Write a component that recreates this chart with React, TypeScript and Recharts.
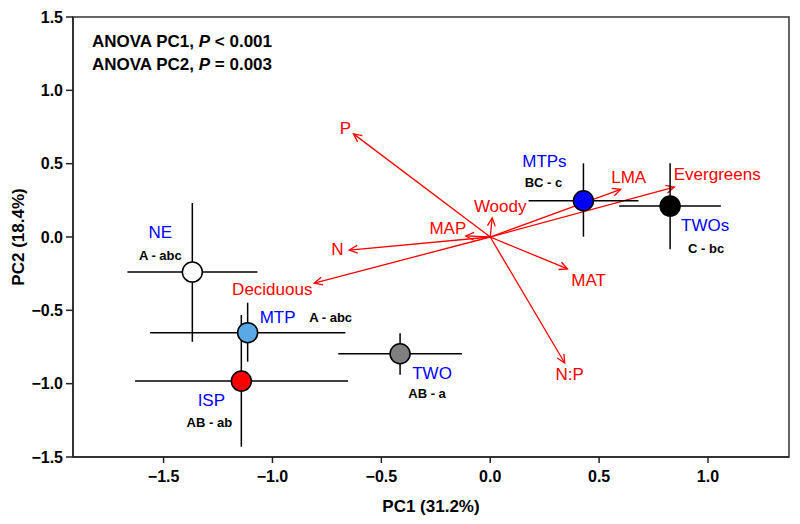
import React from 'react';
import {
  ScatterChart,
  Scatter,
  XAxis,
  YAxis,
  ErrorBar,
  ReferenceLine,
  ReferenceArea,
} from 'recharts';

// group means on PC1/PC2 with error ranges
const groups = ['NE', 'MTP', 'ISP', 'TWO', 'MTPs', 'TWOs'];
const letters = ['A - abc', 'A - abc', 'AB - ab', 'AB - a', 'BC - c', 'C - bc'];
const pc1 = [-1.368, -1.114, -1.143, -0.414, 0.428, 0.826];
const pc2 = [-0.239, -0.652, -0.982, -0.796, 0.247, 0.211];
const pc1Low = [-1.666, -1.562, -1.631, -0.698, 0.176, 0.592];
const pc1High = [-1.069, -0.665, -0.653, -0.13, 0.681, 1.059];
const pc2Low = [-0.714, -0.85, -1.43, -0.94, 0.002, -0.084];
const pc2High = [0.232, -0.448, -0.532, -0.657, 0.502, 0.502];

// loadings (arrows)
const vars = ['P', 'N', 'Deciduous', 'MAP', 'Woody', 'LMA', 'Evergreens', 'MAT', 'N:P'];
const loadPc1 = [-0.628, -0.647, -0.808, -0.112, 0.009, 0.599, 0.845, 0.355, 0.342];
const loadPc2 = [0.703, -0.089, -0.314, 0.007, 0.13, 0.325, 0.34, -0.218, -0.859];

const xTicks = [-1.5, -1.0, -0.5, 0.0, 0.5, 1.0];
const yTicks = [-1.5, -1.0, -0.5, 0.0, 0.5, 1.0, 1.5];

const X_DOMAIN: [number, number] = [-1.916, 1.372];
const Y_DOMAIN: [number, number] = [-1.5, 1.5];

const FONT = '"Liberation Sans", Arial, Helvetica, sans-serif';
const fills = ['#ffffff', '#5aa9e6', '#ff0000', '#808080', '#0000ff', '#000000'];
// text centre offsets from the circle (px): [nameDx, nameDy, letterDx, letterDy]
const groupLabelPos = [
  [-32, -40, -32, -17],
  [30, -16, 83, -15],
  [-30, 19, -32, 41],
  [32, 19, 27, 40],
  [-39, -40, -40, -18],
  [35, 19, 36, 42],
];
// arrow label centre offsets from the tip (px)
const varLabelPos = [
  [-8, -6],
  [-12, -1],
  [-42, 6],
  [-18, -8],
  [8, -12],
  [8, -12],
  [43, -13],
  [21, 11],
  [5, 11],
];

const fmt = (v: number) => (v < 0 ? '\u2212' : '') + Math.abs(v).toFixed(1);

const points = groups.map((g, i) => ({
  name: g,
  i,
  x: pc1[i],
  y: pc2[i],
  ex: [pc1[i] - pc1Low[i], pc1High[i] - pc1[i]],
  ey: [pc2[i] - pc2Low[i], pc2High[i] - pc2[i]],
}));

function GroupDot(props: any) {
  const { cx, cy, payload } = props;
  const i = payload.i;
  const [nx, ny, lx, ly] = groupLabelPos[i];
  return (
    <g>
      <circle cx={cx} cy={cy} r={10} fill={fills[i]} stroke="#000" strokeWidth={1.5} />
      <text
        x={cx + nx}
        y={cy + ny}
        dy="0.35em"
        textAnchor="middle"
        fontFamily={FONT}
        fontSize={17}
        fill="#0000ff"
      >
        {groups[i]}
      </text>
      <text
        x={cx + lx}
        y={cy + ly}
        dy="0.35em"
        textAnchor="middle"
        fontFamily={FONT}
        fontSize={13}
        fontWeight="bold"
        fill="#000"
      >
        {letters[i]}
      </text>
    </g>
  );
}

function arrowShape(i: number) {
  return (p: any) => {
    const { x1, y1, x2, y2 } = p;
    const ang = Math.atan2(y2 - y1, x2 - x1);
    const len = 9;
    const spread = 0.45;
    const ax = x2 - len * Math.cos(ang - spread);
    const ay = y2 - len * Math.sin(ang - spread);
    const bx = x2 - len * Math.cos(ang + spread);
    const by = y2 - len * Math.sin(ang + spread);
    const [dx, dy] = varLabelPos[i];
    return (
      <g>
        <line x1={x1} y1={y1} x2={x2} y2={y2} stroke="#ff0000" strokeWidth={1.3} />
        <polyline
          points={`${ax},${ay} ${x2},${y2} ${bx},${by}`}
          fill="none"
          stroke="#ff0000"
          strokeWidth={1.3}
        />
        <text
          x={x2 + dx}
          y={y2 + dy}
          dy="0.35em"
          textAnchor="middle"
          fontFamily={FONT}
          fontSize={17}
          fill="#ff0000"
        >
          {vars[i]}
        </text>
      </g>
    );
  };
}

export default function App() {
  const tickStyle = { fontFamily: FONT, fontSize: 16, fontWeight: 'bold', fill: '#000' };
  return (
    <div style={{ position: 'absolute', left: 0, top: 0, width: 800, height: 524 }}>
      <ScatterChart
        width={800}
        height={524}
        margin={{ top: 17, right: 11, bottom: 0, left: 0 }}
      >
        <XAxis
          type="number"
          dataKey="x"
          domain={X_DOMAIN}
          allowDataOverflow
          ticks={xTicks}
          tickFormatter={fmt}
          height={67}
          tickSize={6}
          tickMargin={8}
          tick={tickStyle}
          stroke="#222"
          strokeWidth={1.5}
          label={{
            value: 'PC1 (31.2%)',
            position: 'insideBottom',
            offset: 12,
            style: { fontFamily: FONT, fontSize: 17, fontWeight: 'bold', fill: '#000' },
          }}
        />
        <YAxis
          type="number"
          dataKey="y"
          domain={Y_DOMAIN}
          allowDataOverflow
          ticks={yTicks}
          tickFormatter={fmt}
          width={73}
          tickSize={7}
          tickMargin={3}
          tick={tickStyle}
          stroke="#222"
          strokeWidth={1.5}
          label={{
            value: 'PC2 (18.4%)',
            angle: -90,
            position: 'insideLeft',
            offset: 18,
            style: {
              fontFamily: FONT,
              fontSize: 17,
              fontWeight: 'bold',
              fill: '#000',
              textAnchor: 'middle',
            },
          }}
        />
        <ReferenceArea
          x1={X_DOMAIN[0]}
          x2={X_DOMAIN[1]}
          y1={Y_DOMAIN[0]}
          y2={Y_DOMAIN[1]}
          fill="none"
          fillOpacity={0}
          stroke="#333"
          strokeWidth={1.5}
        />
        {vars.map((v, i) => (
          <ReferenceLine
            key={v}
            segment={[
              { x: 0, y: 0 },
              { x: loadPc1[i], y: loadPc2[i] },
            ]}
            shape={arrowShape(i)}
          />
        ))}
        <Scatter data={points} isAnimationActive={false} shape={GroupDot}>
          <ErrorBar
            dataKey="ex"
            direction="x"
            width={0}
            stroke="#000"
            strokeWidth={1.5}
            isAnimationActive={false}
          />
          <ErrorBar
            dataKey="ey"
            direction="y"
            width={0}
            stroke="#000"
            strokeWidth={1.5}
            isAnimationActive={false}
          />
        </Scatter>
      </ScatterChart>
      <svg
        width={800}
        height={524}
        style={{ position: 'absolute', left: 0, top: 0, pointerEvents: 'none' }}
      >
        <text x={92} y={41.5} dy="0.35em" fontFamily={FONT} fontSize={17} fontWeight="bold">
          ANOVA PC1, <tspan fontStyle="italic">P</tspan> {'<'} 0.001
        </text>
        <text x={92} y={64} dy="0.35em" fontFamily={FONT} fontSize={17} fontWeight="bold">
          ANOVA PC2, <tspan fontStyle="italic">P</tspan> = 0.003
        </text>
      </svg>
    </div>
  );
}
